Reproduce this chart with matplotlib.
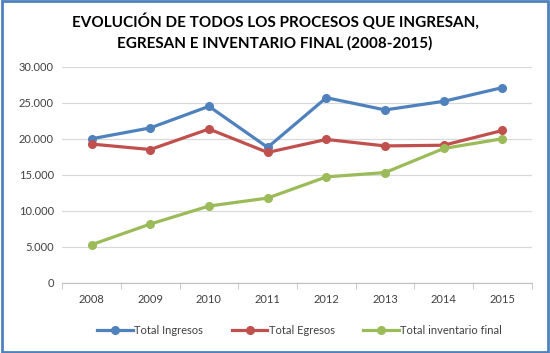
import matplotlib.pyplot as plt
from matplotlib.patches import Rectangle
from matplotlib.ticker import FuncFormatter, FixedLocator

plt.rcParams['font.family'] = ['Lato', 'DejaVu Sans']

years = ['2008', '2009', '2010', '2011', '2012', '2013', '2014', '2015']
ingresos = [19990, 21500, 24500, 18800, 25700, 24000, 25200, 27100]
egresos = [19260, 18500, 21350, 18100, 19900, 19000, 19100, 21150]
inventario = [5280, 8150, 10650, 11760, 14700, 15300, 18650, 20000]

fig = plt.figure(figsize=(5.5, 3.53), dpi=100)
ax = fig.add_axes([0.113, 0.199, 0.854, 0.612])

x = range(len(years))
ax.plot(x, ingresos, color='#4F81BD', lw=2.3, marker='o', ms=5.5, label='Total Ingresos')
ax.plot(x, egresos, color='#C0504D', lw=2.3, marker='o', ms=5.5, label='Total Egresos')
ax.plot(x, inventario, color='#9BBB59', lw=2.3, marker='o', ms=5.5, label='Total inventario final')

ax.set_xlim(-0.5, len(years) - 0.5)
ax.set_ylim(0, 30000)
ax.set_yticks(range(0, 30001, 5000))
ax.yaxis.set_major_formatter(FuncFormatter(lambda v, p: f'{int(v):,}'.replace(',', '.')))
ax.set_xticks(list(x))
ax.set_xticklabels(years)
ax.xaxis.set_minor_locator(FixedLocator([i - 0.5 for i in range(len(years) + 1)]))
ax.tick_params(axis='x', which='major', length=0, pad=8, labelsize=8, labelcolor='#404040')
ax.tick_params(axis='x', which='minor', length=4, color='#BFBFBF')
ax.tick_params(axis='y', length=0, pad=6, labelsize=8, labelcolor='#404040')

ax.grid(axis='y', color='#D9D9D9', lw=0.9)
ax.set_axisbelow(True)
for s in ['top', 'right', 'left']:
    ax.spines[s].set_visible(False)
ax.spines['bottom'].set_color('#BFBFBF')

fig.text(0.5, 0.91, 'EVOLUCIÓN DE TODOS LOS PROCESOS QUE INGRESAN,\nEGRESAN E INVENTARIO FINAL (2008-2015)',
         ha='center', va='center', fontsize=11, fontweight='bold', linespacing=1.55)

fig.legend(loc='center', bbox_to_anchor=(0.545, 0.065), ncol=3, frameon=False,
           fontsize=8, handlelength=3.2, columnspacing=2.6, handletextpad=0.1,
           labelcolor='#404040')

fig.patches.append(Rectangle((0.003, 0.004), 0.994, 0.992, transform=fig.transFigure,
                             fill=False, edgecolor='#4F81BD', lw=2))

fig.savefig('out.png', dpi=100)
